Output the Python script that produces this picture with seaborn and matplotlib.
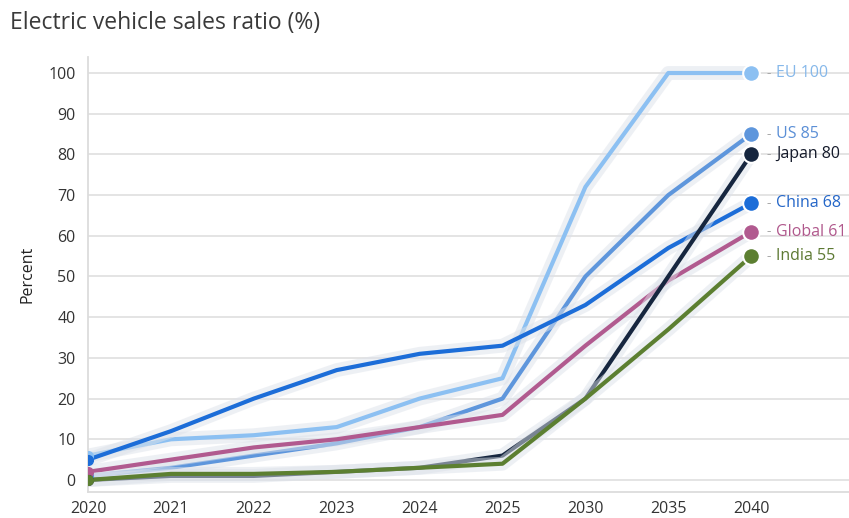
import numpy as np
import pandas as pd
import matplotlib
matplotlib.use('Agg')
import matplotlib.pyplot as plt
import matplotlib.patheffects as pe
import seaborn as sns

# data
years = ['2020', '2021', '2022', '2023', '2024', '2025', '2030', '2035', '2040']
eu = [6, 10, 11, 13, 20, 25, 72, 100, 100]
us = [1, 3, 6, 9, 13, 20, 50, 70, 85]
china = [5, 12, 20, 27, 31, 33, 43, 57, 68]
global_ = [2, 5, 8, 10, 13, 16, 33, 49, 61]
japan = [0, 1, 1, 2, 3, 6, 20, 50, 80]
india = [0, 1.5, 1.5, 2, 3, 4, 20, 37, 55]

regions = ['EU', 'US', 'China', 'Global', 'Japan', 'India']
series = [eu, us, china, global_, japan, india]
line_colors = ['#8cc0f2', '#5e96dc', '#1c6dd8', '#b15a8f', '#16263f', '#5c7f31']
text_colors = ['#86b8ea', '#5b8fd6', '#2466c8', '#b0588c', '#141a2a', '#5d7933']

df = pd.DataFrame({
    'year': years * len(regions),
    'x': list(range(len(years))) * len(regions),
    'value': sum(series, []),
    'region': np.repeat(regions, len(years)),
})

sns.set_theme(style='white')
plt.rcParams['font.family'] = ['Open Sans', 'DejaVu Sans']

fig = plt.figure(figsize=(8.49, 5.18), dpi=100)
ax = fig.add_axes([0.1037, 0.0498, 0.8963, 0.8407])

ax.yaxis.grid(True, color='#e2e2e2', linewidth=1.3)
ax.set_axisbelow(True)

sns.lineplot(data=df, x='x', y='value', hue='region', hue_order=regions,
             palette=dict(zip(regions, line_colors)), linewidth=3,
             legend=False, ax=ax, sort=False)

for line in ax.get_lines():
    line.set_path_effects([pe.Stroke(linewidth=10, foreground='#dde2ea', alpha=0.5),
                           pe.Normal()])
    line.set_solid_capstyle('round')
    line.set_solid_joinstyle('round')

# start dots and end markers with labels
for name, vals, lc, tc in zip(regions, series, line_colors, text_colors):
    ax.plot(0, vals[0], 'o', color=lc, markersize=7, zorder=5)
    ax.plot(len(years) - 1, vals[-1], 'o', color=lc, markersize=12,
            markeredgecolor='white', markeredgewidth=1.5, zorder=6)
    ax.annotate('-', xy=(len(years) - 1, vals[-1]), xytext=(11, 0),
                textcoords='offset points', va='center', ha='left',
                color='#aaaaaa', fontsize=10)
    ax.annotate(f'{name} {vals[-1]}', xy=(len(years) - 1, vals[-1]),
                xytext=(18, 0), textcoords='offset points', va='center',
                ha='left', color=tc, fontsize=11.5, fontweight='medium')

ax.set_xlim(0, 9.18)
ax.set_ylim(-3, 104)
ax.set_xticks(range(len(years)))
ax.set_xticklabels(years)
ax.set_yticks(range(0, 101, 10))
ax.tick_params(axis='x', length=5, color='#d5d5d5', labelsize=11.5, labelcolor='#333333', pad=1)
ax.tick_params(axis='y', length=0, labelsize=11.5, labelcolor='#333333', pad=9)
ax.set_xlabel('')
ax.set_ylabel('Percent', fontsize=11.5, color='#222222', labelpad=9)

sns.despine(ax=ax, top=True, right=True)
for side in ['left', 'bottom']:
    ax.spines[side].set_color('#dcdcdc')
    ax.spines[side].set_linewidth(1.3)

fig.text(0.012, 0.955, 'Electric vehicle sales ratio (%)', fontsize=16.5,
         color='#3a3a3a', ha='left', va='center')

fig.savefig('out.png', dpi=100)
